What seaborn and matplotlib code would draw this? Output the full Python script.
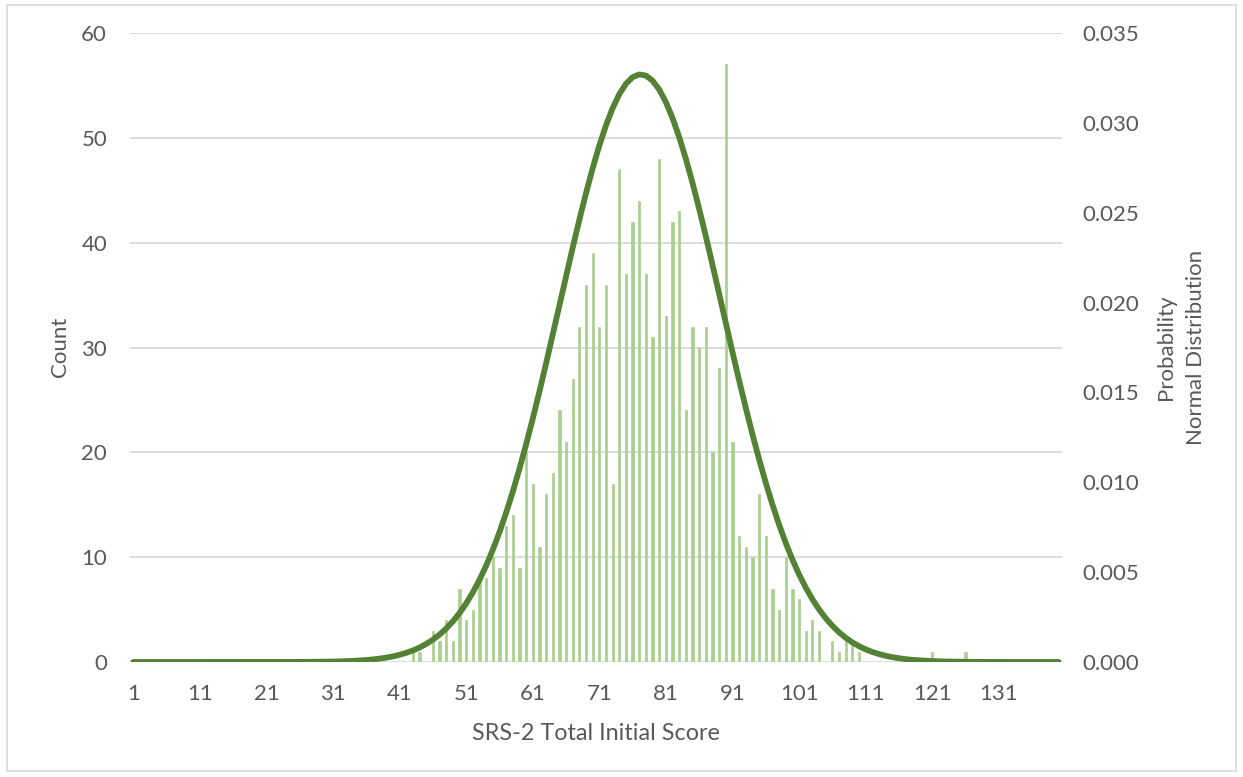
import numpy as np
import pandas as pd
import seaborn as sns
import matplotlib.pyplot as plt
from matplotlib.patches import Rectangle

# SRS-2 total initial score, one category per score
scores = list(range(1, 141))
counts = ([0] * 42 +
          [1, 1, 0, 3, 2, 4, 2, 7, 4, 5,
           8, 8, 10, 9, 13, 14, 9, 20, 17, 11,
           16, 18, 24, 21, 27, 32, 36, 39, 32, 36,
           17, 47, 37, 42, 44, 37, 31, 48, 33, 42,
           43, 24, 32, 30, 32, 20, 28, 57, 21, 12,
           11, 10, 16, 12, 7, 5, 10, 7, 6, 3,
           4, 3, 0, 2, 1, 2, 2, 1] +
          [0] * 10 + [1] + [0] * 4 + [1] + [0] * 14)
tick_labels = [str(s) for s in range(1, 141, 10)]

# normal distribution fitted to the scores
norm_mean = 77.2
norm_sd = 12.2

sc = np.array(scores, dtype=float)
prob = np.exp(-0.5 * ((sc - norm_mean) / norm_sd) ** 2) / (norm_sd * np.sqrt(2 * np.pi))
df = pd.DataFrame({'score': scores, 'count': counts, 'prob': prob})

sns.set_style('white')
plt.rcParams['font.family'] = ['Lato', 'DejaVu Sans']
grey = '#595959'
fs = 16

fig = plt.figure(figsize=(12.43, 7.77), dpi=100)
ax = fig.add_axes([130 / 1243, 1 - 662 / 777, 932 / 1243, 629 / 777])

sns.barplot(data=df, x='score', y='count', color='#A9D18E', saturation=1,
            width=0.34, linewidth=0.5, edgecolor='#A9D18E', ax=ax)
ax.set_xlim(-0.5, 139.5)
ax.set_ylim(0, 60)
ax.set_yticks(range(0, 61, 10))
ax.set_xticks(range(0, 140, 10))
ax.set_xticklabels(tick_labels)
ax.yaxis.grid(True, color='#D9D9D9', lw=1.3)
ax.set_axisbelow(True)
ax.set_xlabel('')
ax.set_ylabel('')
ax.tick_params(axis='y', length=0, pad=16.5, labelsize=fs, labelcolor=grey)
ax.tick_params(axis='x', length=0, pad=16, labelsize=fs, labelcolor=grey)

ax2 = ax.twinx()
sns.lineplot(x=np.arange(len(scores)), y=df['prob'], color='#548235', lw=4.2, ax=ax2)
ax2.set_ylim(0, 0.035)
ax2.set_yticks(np.arange(0, 0.0351, 0.005))
ax2.set_yticklabels([f'{v:.3f}' for v in np.arange(0, 0.0351, 0.005)])
ax2.set_ylabel('')
ax2.tick_params(axis='y', length=0, pad=15, labelsize=fs, labelcolor=grey)

for a in (ax, ax2):
    for s in a.spines.values():
        s.set_visible(False)

fig.text(60 / 1243, 1 - 347 / 777, 'Count', rotation=90, ha='center', va='center',
         fontsize=fs, color=grey)
fig.text(1181 / 1243, 1 - 347 / 777, 'Probability\nNormal Distribution', rotation=90,
         ha='center', va='center', multialignment='center', fontsize=fs, color=grey,
         linespacing=1.6)
fig.text(596 / 1243, 1 - 733 / 777, 'SRS-2 Total Initial Score', ha='center', va='center',
         fontsize=16.8, color=grey)

fig.patches.append(Rectangle((7 / 1243, 6 / 777), 1229 / 1243, 766 / 777,
                             transform=fig.transFigure, fill=False,
                             edgecolor='#D9D9D9', lw=1.2))

fig.savefig('out.png', dpi=100)
